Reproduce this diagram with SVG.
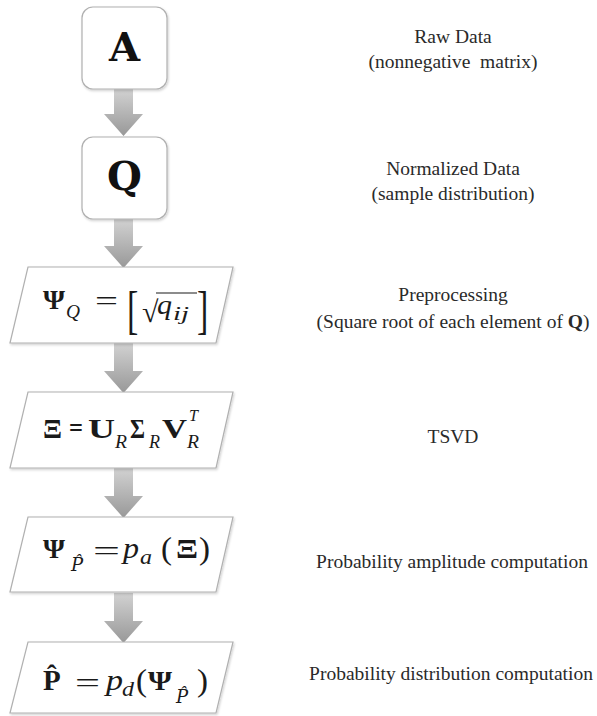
<svg xmlns="http://www.w3.org/2000/svg" width="597" height="716" viewBox="0 0 597 716">
<defs>
<linearGradient id="ag" x1="0" y1="0" x2="0" y2="1">
<stop offset="0" stop-color="#d2d2d2"/>
<stop offset="1" stop-color="#989898"/>
</linearGradient>
<filter id="sh" x="-10%" y="-10%" width="130%" height="130%">
<feDropShadow dx="1" dy="1.5" stdDeviation="1.2" flood-color="#000" flood-opacity="0.18"/>
</filter>
<style>
.box{fill:#fff;stroke:#b0b0b0;stroke-width:1.2;filter:url(#sh)}
.arr{fill:url(#ag)}
.m{font-family:'Liberation Serif','Times New Roman',serif;fill:#1a1a1a}
.d{font-family:'DejaVu Serif',serif;fill:#1a1a1a;font-style:italic}
.b{font-weight:bold}
.i{font-style:italic}
.big{font-family:'DejaVu Serif',serif;font-weight:bold;font-size:40px;fill:#111;text-anchor:middle}
.lbl{font-family:'Liberation Serif','Times New Roman',serif;font-size:19.5px;fill:#2a2a2a;text-anchor:middle;white-space:pre}
</style>
</defs>
<rect width="597" height="716" fill="#fff"/>
<g id="connectors">
<path class="arr" d="M114,89 H133 V114 H143 L123.5,136 L104,114 H114 Z"/>
<path class="arr" d="M114,219 H133 V246 H143 L123.5,268 L104,246 H114 Z"/>
<path class="arr" d="M114,343 H133 V371 H143 L123.5,393 L104,371 H114 Z"/>
<path class="arr" d="M114,468 H133 V496 H143 L123.5,518 L104,496 H114 Z"/>
<path class="arr" d="M114,593 H133 V621 H143 L123.5,643 L104,621 H114 Z"/>
</g>
<g id="nodeA">
<rect class="box" x="82" y="7" width="85" height="82" rx="11"/>
<text class="big" x="124.5" y="61">A</text>
</g>
<g id="nodeQ">
<rect class="box" x="82" y="137" width="85" height="82" rx="11"/>
<text class="big" x="124.5" y="190">Q</text>
</g>
<g id="nodePsiQ">
<polygon class="box" points="28,267 233,267 216,343 10,343"/>
<text class="m b" x="43" y="309" font-size="28" textLength="22" lengthAdjust="spacingAndGlyphs">Ψ</text>
<text class="m i" x="66" y="318" font-size="18" textLength="14" lengthAdjust="spacingAndGlyphs">Q</text>
<text class="m" x="95" y="310" font-size="28" textLength="23" lengthAdjust="spacingAndGlyphs">=</text>
<text class="m" x="127" y="321" font-size="34" transform="translate(0,-170) scale(1,1.55)" fill="#333">[</text>
<text class="m" x="142" y="322" font-size="30">√</text>
<line x1="156" y1="293" x2="197" y2="293" stroke="#1a1a1a" stroke-width="1.2"/>
<text class="m i" x="157" y="314" font-size="28" textLength="15" lengthAdjust="spacingAndGlyphs">q</text>
<text class="m i" x="173" y="320" font-size="18" textLength="16" lengthAdjust="spacingAndGlyphs">ij</text>
<text class="m" x="197" y="321" font-size="34" transform="translate(0,-170) scale(1,1.55)" fill="#333">]</text>
</g>
<g id="nodeXi">
<polygon class="box" points="28,392 233,392 216,468 10,468"/>
<text class="m b" x="43" y="438" font-size="27" textLength="19" lengthAdjust="spacingAndGlyphs">Ξ</text>
<text class="m b" x="69" y="437" font-size="27" textLength="14" lengthAdjust="spacingAndGlyphs">=</text>
<text class="m b" x="88" y="438" font-size="28" textLength="27" lengthAdjust="spacingAndGlyphs">U</text>
<text class="m i" x="115" y="448" font-size="18" textLength="12" lengthAdjust="spacingAndGlyphs">R</text>
<text class="m b" x="130" y="438" font-size="28" textLength="15" lengthAdjust="spacingAndGlyphs">Σ</text>
<text class="m i" x="149" y="448" font-size="18" textLength="11" lengthAdjust="spacingAndGlyphs">R</text>
<text class="m b" x="162" y="438" font-size="28" textLength="25" lengthAdjust="spacingAndGlyphs">V</text>
<text class="m i" x="189" y="421" font-size="16" textLength="9" lengthAdjust="spacingAndGlyphs">T</text>
<text class="m i" x="187" y="448" font-size="18" textLength="12" lengthAdjust="spacingAndGlyphs">R</text>
</g>
<g id="nodePsiP">
<polygon class="box" points="28,517 233,517 216,592 10,592"/>
<text class="m b" x="43" y="558" font-size="28" textLength="22" lengthAdjust="spacingAndGlyphs">Ψ</text>
<text class="d" x="71" y="571" font-size="18">P&#x302;</text>
<text class="m" x="93" y="560" font-size="28" textLength="27" lengthAdjust="spacingAndGlyphs">=</text>
<text class="m i" x="123" y="558" font-size="30" textLength="16" lengthAdjust="spacingAndGlyphs">p</text>
<text class="m i" x="140" y="564" font-size="20" textLength="12" lengthAdjust="spacingAndGlyphs">a</text>
<text class="m" x="161" y="559" font-size="32" textLength="11" lengthAdjust="spacingAndGlyphs">(</text>
<text class="m b" x="176" y="558" font-size="28" textLength="22" lengthAdjust="spacingAndGlyphs">Ξ</text>
<text class="m" x="199" y="559" font-size="32" textLength="11" lengthAdjust="spacingAndGlyphs">)</text>
</g>
<g id="nodeP">
<polygon class="box" points="28,642 233,642 216,713 10,713"/>
<text class="m b" x="43" y="690" font-size="29">P&#x302;</text>
<text class="m" x="75" y="692" font-size="28" textLength="25" lengthAdjust="spacingAndGlyphs">=</text>
<text class="m i" x="106" y="690" font-size="30" textLength="17" lengthAdjust="spacingAndGlyphs">p</text>
<text class="m i" x="122" y="696" font-size="20" textLength="12" lengthAdjust="spacingAndGlyphs">d</text>
<text class="m" x="136" y="691" font-size="32" textLength="11" lengthAdjust="spacingAndGlyphs">(</text>
<text class="m b" x="148" y="690" font-size="28" textLength="24" lengthAdjust="spacingAndGlyphs">Ψ</text>
<text class="d" x="176" y="703" font-size="18">P&#x302;</text>
<text class="m" x="197" y="691" font-size="32" textLength="11" lengthAdjust="spacingAndGlyphs">)</text>
</g>
<g id="labels">
<text class="lbl" x="453" y="43">Raw Data</text>
<text class="lbl" x="453" y="68">(nonnegative  matrix)</text>
<text class="lbl" x="453" y="175">Normalized Data</text>
<text class="lbl" x="453" y="200">(sample distribution)</text>
<text class="lbl" x="453" y="301">Preprocessing</text>
<text class="lbl" x="453" y="328">(Square root of each element of <tspan font-weight="bold">Q</tspan>)</text>
<text class="lbl" x="453" y="443">TSVD</text>
<text class="lbl" x="452" y="568">Probability amplitude computation</text>
<text class="lbl" x="451" y="680">Probability distribution computation</text>
</g>
</svg>
